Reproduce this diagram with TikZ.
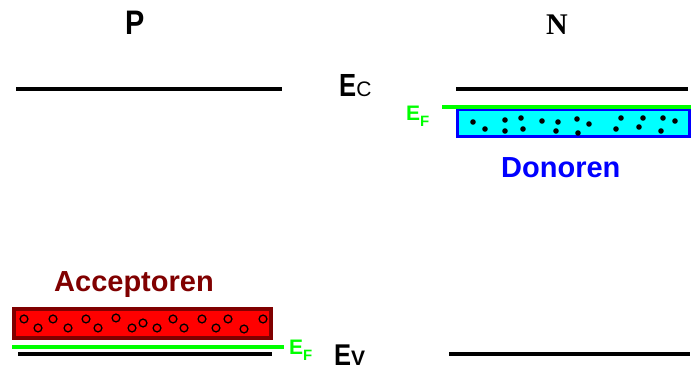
\documentclass[tikz,border=0pt]{standalone}
\usepackage{fontspec}
\setmainfont{Liberation Sans}
\newfontfamily\serifbf{Liberation Serif}
\definecolor{lgreen}{HTML}{00FF00}
\definecolor{dred}{HTML}{800000}
\definecolor{cyanfill}{HTML}{00FFFF}
\definecolor{pblue}{HTML}{0000FF}
\begin{document}
\begin{tikzpicture}[x=1pt,y=-1pt,
  level/.style={line width=4pt},
  fermi/.style={line width=4pt,draw=lgreen},
  lbl/.style={inner sep=0pt,anchor=base west},
  big/.style={font=\fontsize{29}{29}\selectfont\bfseries},
  eflbl/.style={inner sep=0pt,anchor=base west,text=lgreen,font=\fontsize{21}{21}\selectfont\bfseries},
  donor/.style={fill=black,draw=none},
  acceptor/.style={draw=black,line width=1.3pt,fill=none}]
\useasboundingbox (0,0) rectangle (691,371);
% titles
\node[lbl,font=\fontsize{34}{34}\selectfont\bfseries] (P) at (125,35) {\scalebox{0.85}[1]{P}};
\node[lbl,font=\fontsize{30}{30}\selectfont\serifbf\bfseries] (N) at (546,35) {N};
% levels
\draw[level] (16,89) -- (282,89);
\draw[level] (456,89) -- (688,89);
\draw[level] (18,354) -- (272,354);
\draw[level] (449,354) -- (690,354);
% Ec / Ev labels
\node[lbl] (Ec) at (339,97) {\fontsize{32}{32}\selectfont\bfseries\scalebox{0.8}[1]{E}\fontsize{21}{21}\selectfont\mdseries C};
\node[lbl] (Ev) at (334,366) {\fontsize{30}{30}\selectfont\bfseries\scalebox{0.85}[1]{E}\fontsize{21}{21}\selectfont V};
% donor box
\draw[fill=cyanfill,draw=pblue,line width=3pt] (457,110) rectangle (689,137);
\foreach \p in {(473,122),(485,129),(505,120),(505,131),(521,118),(523,129),(542,121),(558,122),(556,131),(577,119),(578,133),(589,124),(621,118),(616,129),(639,127),(643,118),(663,118),(661,131),(675,121)}
  \fill[donor] \p circle (2.8);
\draw[fermi] (442,107) -- (691,107);
\node[eflbl] (EF1) at (406,121) {E\raisebox{-6pt}{\fontsize{15}{15}\selectfont F}};
\node[lbl,big,text=pblue] (Don) at (501,178) {Donoren};
% acceptor box
\node[lbl,big,text=dred] (Acc) at (54,292) {Acceptoren};
\draw[fill=red,draw=dred,line width=4pt] (14,309) rectangle (271,338);
\foreach \p in {(24,319),(38,328),(53,319),(68,328),(86,319),(98,328),(116,318),(132,328),(143,323),(157,328),(173,319),(184,328),(202,319),(216,328),(228,319),(244,329),(263,319)}
  \draw[acceptor] \p circle (3.9);
\draw[fermi] (12,347) -- (284,347);
\node[eflbl] (EF2) at (289,355) {E\raisebox{-6pt}{\fontsize{15}{15}\selectfont F}};
\end{tikzpicture}
\end{document}
